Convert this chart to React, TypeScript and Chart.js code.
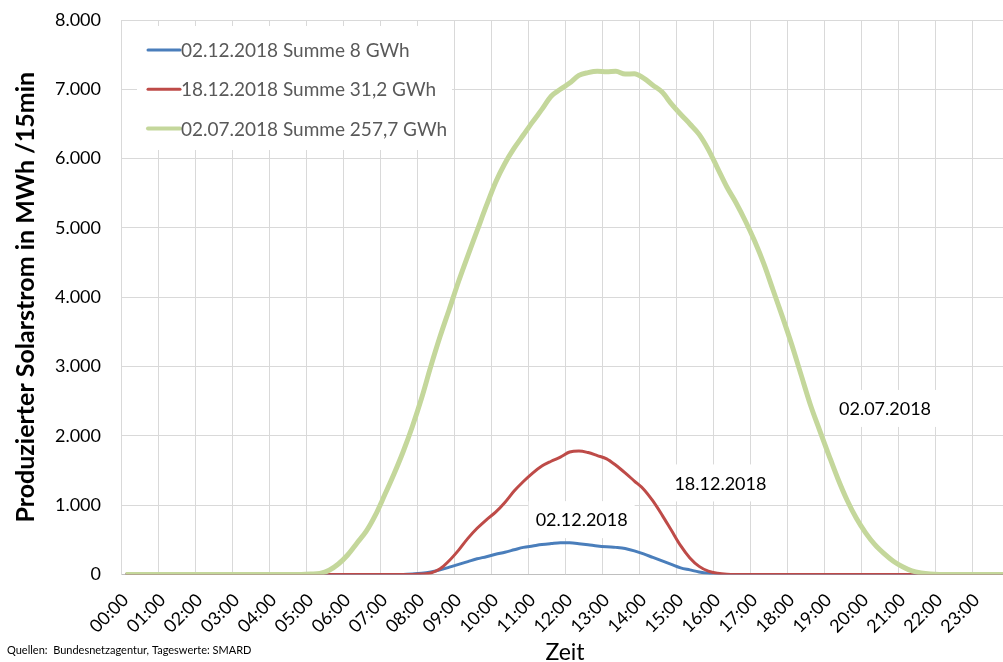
import React, { useEffect, useRef } from 'react';
import { Chart, registerables } from 'chart.js';

Chart.register(...registerables);

// ---------- data ----------
const HOUR_LABELS = [
  '00:00', '01:00', '02:00', '03:00', '04:00', '05:00', '06:00', '07:00',
  '08:00', '09:00', '10:00', '11:00', '12:00', '13:00', '14:00', '15:00',
  '16:00', '17:00', '18:00', '19:00', '20:00', '21:00', '22:00', '23:00',
];
const QUARTERS = ['00', '15', '30', '45'];
// 96 quarter-hour categories: 00:00, 00:15, ... 23:45
const CATEGORIES = HOUR_LABELS.flatMap((h) => QUARTERS.map((q) => h.slice(0, 3) + q));

const SERIES_NAMES = [
  '02.12.2018 Summe 8 GWh',
  '18.12.2018 Summe 31,2 GWh',
  '02.07.2018 Summe 257,7 GWh',
];

// MWh per 15 min
const DEC02 = [
  0, 0, 0, 0, 0, 0, 0, 0, 0, 0, 0, 0, 0, 0, 0, 0,
  0, 0, 0, 0, 0, 0, 0, 0, 0, 0, 0, 0, 0, 0, 0, 5,
  15, 35, 65, 105, 145, 185, 225, 255, 290, 320, 355, 390, 410, 430, 445, 458,
  455, 443, 428, 410, 398, 390, 375, 340, 295, 245, 195, 145, 95, 65, 35, 15,
  4, 0, 0, 0, 0, 0, 0, 0, 0, 0, 0, 0, 0, 0, 0, 0,
  0, 0, 0, 0, 0, 0, 0, 0, 0, 0, 0, 0, 0, 0, 0, 0,
];

const DEC18 = [
  0, 0, 0, 0, 0, 0, 0, 0, 0, 0, 0, 0, 0, 0, 0, 0,
  0, 0, 0, 0, 0, 0, 0, 0, 0, 0, 0, 0, 0, 0, 0, 0,
  5, 20, 80, 200, 350, 520, 665, 788, 898, 1038, 1202, 1340, 1462, 1564, 1633, 1693,
  1766, 1782, 1758, 1714, 1668, 1575, 1465, 1347, 1230, 1060, 856, 636, 415, 238, 116, 47,
  16, 3, 0, 0, 0, 0, 0, 0, 0, 0, 0, 0, 0, 0, 0, 0,
  0, 0, 0, 0, 0, 0, 0, 0, 0, 0, 0, 0, 0, 0, 0, 0,
];

const JUL02 = [
  0, 0, 0, 0, 0, 0, 0, 0, 0, 0, 0, 0, 0, 0, 0, 0,
  0, 0, 0, 0, 5, 15, 60, 150, 280, 450, 620, 855, 1145, 1445, 1770, 2135,
  2545, 3005, 3435, 3830, 4230, 4600, 4960, 5320, 5660, 5930, 6150, 6340, 6530, 6710, 6900, 7000,
  7090, 7200, 7240, 7260, 7255, 7260, 7220, 7225, 7160, 7060, 6960, 6790, 6640, 6500, 6350, 6130,
  5860, 5590, 5360, 5100, 4810, 4480, 4100, 3720, 3320, 2890, 2460, 2090, 1730, 1380, 1070, 810,
  600, 430, 300, 190, 110, 50, 20, 5, 0, 0, 0, 0, 0, 0, 0, 0,
];

const Y_MIN = 0;
const Y_MAX = 8000;
const Y_STEP = 1000;

// in-plot date labels, anchored in data coordinates (category index, MWh)
const DATE_LABELS = ['02.12.2018', '18.12.2018', '02.07.2018'];
const DATE_LABEL_INDEX = [49.3, 64.3, 82.1];
const DATE_LABEL_VALUE = [790, 1320, 2395];

const Y_TITLE = 'Produzierter Solarstrom in MWh /15min';
const X_TITLE = 'Zeit';
const SOURCE_NOTE = 'Quellen:  Bundesnetzagentur, Tageswerte: SMARD';

// ---------- styling ----------
const FONT = 'Lato';
const COLORS = ['#4a7ebb', '#be4b48', '#c4d79b'];
const WIDTHS = [3, 3, 5];
const GRID = '#d9d9d9';

const fmtDE = (v: number) => {
  if (v < 1000) return String(v);
  const th = Math.floor(v / 1000);
  const rest = String(v % 1000).padStart(3, '0');
  return th + '.' + rest;
};

const legendPlugin = {
  id: 'insideLegend',
  beforeDatasetsDraw(chart: any) {
    const { ctx, chartArea } = chart;
    const x0 = chartArea.left + 16;
    const y0 = chartArea.top + 6;
    ctx.save();
    ctx.fillStyle = '#ffffff';
    ctx.fillRect(x0, y0, 315, 124);
    ctx.font = `19px ${FONT}`;
    ctx.textBaseline = 'middle';
    ctx.textAlign = 'left';
    chart.data.datasets.forEach((ds: any, i: number) => {
      const y = y0 + 24 + i * 39.2;
      ctx.strokeStyle = ds.borderColor;
      ctx.lineWidth = Math.min(ds.borderWidth, 4);
      ctx.lineCap = 'round';
      ctx.beginPath();
      ctx.moveTo(x0 + 11, y);
      ctx.lineTo(x0 + 43, y);
      ctx.stroke();
      ctx.fillStyle = '#595959';
      ctx.fillText(ds.label, x0 + 44, y + 1);
    });
    ctx.restore();
  },
};

const dateLabelPlugin = {
  id: 'dateLabels',
  beforeDatasetsDraw(chart: any) {
    const { ctx } = chart;
    const xs = chart.scales.x;
    const ys = chart.scales.y;
    ctx.save();
    ctx.font = `18px ${FONT}`;
    ctx.textAlign = 'center';
    ctx.textBaseline = 'middle';
    DATE_LABELS.forEach((t, i) => {
      const px = xs.getPixelForValue(DATE_LABEL_INDEX[i]);
      const py = ys.getPixelForValue(DATE_LABEL_VALUE[i]);
      const w = ctx.measureText(t).width;
      ctx.fillStyle = '#ffffff';
      ctx.fillRect(px - w / 2 - 7, py - 18.5, w + 14, 37);
      ctx.fillStyle = '#000000';
      ctx.fillText(t, px, py + 1);
    });
    ctx.restore();
  },
};

const notePlugin = {
  id: 'sourceNote',
  afterDraw(chart: any) {
    const { ctx } = chart;
    ctx.save();
    ctx.font = `11px ${FONT}`;
    ctx.fillStyle = '#000000';
    ctx.textAlign = 'left';
    ctx.textBaseline = 'middle';
    ctx.fillText(SOURCE_NOTE, 7, 650);
    ctx.restore();
  },
};

const CANVAS_W = 1012;
const CANVAS_H = 670;

export default function App() {
  const ref = useRef<HTMLCanvasElement>(null);

  useEffect(() => {
    document.body.style.margin = '0';
    document.body.style.overflow = 'hidden';
    const canvas = ref.current!;
    const chart = new Chart(canvas, {
      type: 'line',
      data: {
        labels: CATEGORIES,
        datasets: [DEC02, DEC18, JUL02].map((d, i) => ({
          label: SERIES_NAMES[i],
          data: d,
          borderColor: COLORS[i],
          backgroundColor: COLORS[i],
          borderWidth: WIDTHS[i],
          pointRadius: 0,
          cubicInterpolationMode: 'monotone' as const,
          order: 2 - i,
        })),
      },
      options: {
        responsive: false,
        animation: false,
        devicePixelRatio: 1,
        layout: { padding: { top: 20, right: 3, bottom: 0, left: 0 } },
        plugins: {
          legend: { display: false },
          tooltip: { enabled: false },
        },
        scales: {
          x: {
            type: 'category',
            offset: true,
            afterFit: (s: any) => {
              s.height = CANVAS_H - 574.4;
              s.paddingLeft = 0;
              s.paddingRight = 0;
            },
            grid: {
              offset: true,
              drawTicks: false,
              color: (c: any) => (c.index % 4 === 0 ? GRID : 'rgba(0,0,0,0)'),
            },
            border: { display: true, color: '#bfbfbf' },
            ticks: {
              autoSkip: false,
              minRotation: 45,
              maxRotation: 45,
              padding: 15,
              color: '#000000',
              font: { family: FONT, size: 18 },
              callback: (_v: any, idx: number) => (idx % 4 === 0 ? CATEGORIES[idx] : ''),
            },
            title: {
              display: true,
              text: X_TITLE,
              color: '#000000',
              font: { family: FONT, size: 23 },
              padding: { top: 0, bottom: 4 },
            },
          },
          y: {
            min: Y_MIN,
            max: Y_MAX,
            afterFit: (s: any) => {
              s.width = 121;
              s.paddingTop = 0;
              s.paddingBottom = 0;
            },
            grid: { color: GRID, drawTicks: false },
            border: { display: true, color: GRID },
            ticks: {
              stepSize: Y_STEP,
              padding: 20,
              color: '#000000',
              font: { family: FONT, size: 18 },
              callback: (v: any) => fmtDE(Number(v)),
            },
            title: {
              display: true,
              text: Y_TITLE,
              color: '#000000',
              font: { family: FONT, size: 25, weight: 'bold' },
              padding: { top: 11, bottom: 0 },
            },
          },
        },
      },
      plugins: [legendPlugin, dateLabelPlugin, notePlugin],
    });
    return () => chart.destroy();
  }, []);

  return (
    <div
      style={{
        position: 'fixed',
        left: 0,
        top: 0,
        width: 1003,
        height: 662,
        overflow: 'hidden',
        background: '#ffffff',
      }}
    >
      <canvas
        ref={ref}
        width={CANVAS_W}
        height={CANVAS_H}
        style={{ display: 'block', width: CANVAS_W, height: CANVAS_H }}
      />
    </div>
  );
}
